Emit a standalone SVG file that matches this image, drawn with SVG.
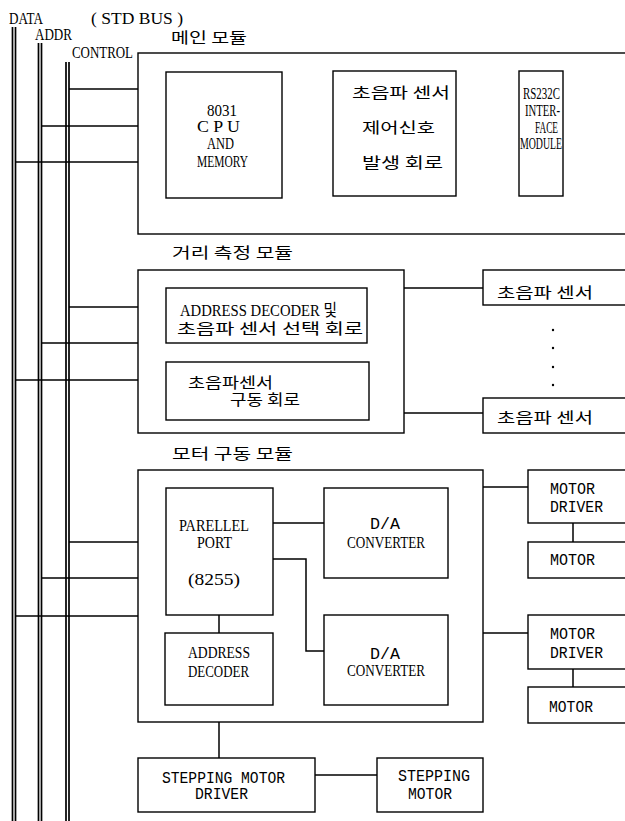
<svg xmlns="http://www.w3.org/2000/svg" width="625" height="821" viewBox="0 0 625 821">
<style>
.box{fill:none;stroke:#000;stroke-width:1.4}
.ln{fill:none;stroke:#000;stroke-width:1.5}
.bus{fill:none;stroke:#000;stroke-width:1.7}
.t{font-family:"Liberation Serif","Noto Sans CJK KR",serif;font-size:17px;fill:#000}
.m{font-family:"Liberation Mono","Noto Sans CJK KR",monospace;font-size:16px;fill:#000}
.k{font-family:"Noto Sans CJK KR","Liberation Serif",sans-serif;font-size:15px;fill:#000}
</style>
<rect width="625" height="821" fill="#fff"/>

<g id="bus">
<line class="bus" x1="12.5" y1="27" x2="12.5" y2="821"/>
<line class="bus" x1="15.5" y1="27" x2="15.5" y2="821"/>
<line class="bus" x1="38.5" y1="43" x2="38.5" y2="821"/>
<line class="bus" x1="41.5" y1="43" x2="41.5" y2="821"/>
<line class="bus" x1="66" y1="62" x2="66" y2="821"/>
<line class="bus" x1="69" y1="62" x2="69" y2="821"/>
<text class="t" x="9" y="24" textLength="34" lengthAdjust="spacingAndGlyphs">DATA</text>
<text class="t" x="91" y="24" textLength="92" lengthAdjust="spacingAndGlyphs">( STD BUS )</text>
<text class="t" x="35" y="40" textLength="37" lengthAdjust="spacingAndGlyphs">ADDR</text>
<text class="t" x="72" y="58" textLength="61" lengthAdjust="spacingAndGlyphs">CONTROL</text>
</g>

<g id="connectors">
<line class="ln" x1="69" y1="89" x2="138" y2="89"/>
<line class="ln" x1="41" y1="126" x2="138" y2="126"/>
<line class="ln" x1="15" y1="162" x2="138" y2="162"/>
<line class="ln" x1="69" y1="307" x2="138" y2="307"/>
<line class="ln" x1="41" y1="343" x2="138" y2="343"/>
<line class="ln" x1="15" y1="380" x2="138" y2="380"/>
<line class="ln" x1="69" y1="542" x2="138" y2="542"/>
<line class="ln" x1="41" y1="578" x2="138" y2="578"/>
<line class="ln" x1="15" y1="616" x2="138" y2="616"/>
<line class="ln" x1="404" y1="288" x2="483" y2="288"/>
<line class="ln" x1="404" y1="413" x2="483" y2="413"/>
<line class="ln" x1="273" y1="523" x2="324" y2="523"/>
<polyline class="ln" points="273,559 306,559 306,651 324,651"/>
<line class="ln" x1="219" y1="615" x2="219" y2="633"/>
<line class="ln" x1="483" y1="487" x2="528" y2="487"/>
<line class="ln" x1="573" y1="523" x2="573" y2="542"/>
<line class="ln" x1="483" y1="633" x2="528" y2="633"/>
<line class="ln" x1="573" y1="669" x2="573" y2="687"/>
<line class="ln" x1="219" y1="722" x2="219" y2="758"/>
<line class="ln" x1="315" y1="775" x2="377" y2="775"/>
</g>

<g id="main-module">
<rect class="box" x="138" y="53" width="500" height="181"/>
<text class="k" x="171" y="43" textLength="76" lengthAdjust="spacingAndGlyphs">메인 모듈</text>
</g>
<g id="cpu">
<rect class="box" x="166" y="72" width="116" height="126"/>
<text class="t" x="207" y="115.5" textLength="30" lengthAdjust="spacingAndGlyphs">8031</text>
<text class="t" x="197" y="132" textLength="43" lengthAdjust="spacingAndGlyphs">C P U</text>
<text class="t" x="207" y="148.5" textLength="27" lengthAdjust="spacingAndGlyphs">AND</text>
<text class="t" x="197" y="167" textLength="51" lengthAdjust="spacingAndGlyphs">MEMORY</text>
</g>
<g id="sensor-control">
<rect class="box" x="333" y="71" width="123" height="125"/>
<text class="k" x="352" y="98" textLength="98" lengthAdjust="spacingAndGlyphs">초음파 센서</text>
<text class="k" x="362" y="133" textLength="73" lengthAdjust="spacingAndGlyphs">제어신호</text>
<text class="k" x="362" y="168" textLength="81" lengthAdjust="spacingAndGlyphs">발생 회로</text>
</g>
<g id="rs232c">
<rect class="box" x="519" y="71" width="44" height="125"/>
<text class="t" x="523" y="98.5" textLength="37" lengthAdjust="spacingAndGlyphs">RS232C</text>
<text class="t" x="525" y="115.5" textLength="35" lengthAdjust="spacingAndGlyphs">INTER-</text>
<text class="t" x="535" y="132.5" textLength="23" lengthAdjust="spacingAndGlyphs">FACE</text>
<text class="t" x="520" y="148.5" textLength="42" lengthAdjust="spacingAndGlyphs">MODULE</text>
</g>

<g id="distance-module">
<rect class="box" x="138" y="270" width="266" height="163"/>
<text class="k" x="172" y="258" textLength="121" lengthAdjust="spacingAndGlyphs">거리 측정 모듈</text>
</g>
<g id="addr-decoder-select">
<rect class="box" x="166" y="288" width="201" height="55"/>
<text class="t" x="180" y="315.5" textLength="157" lengthAdjust="spacingAndGlyphs">ADDRESS DECODER 및</text>
<text class="k" x="177" y="334" textLength="186" lengthAdjust="spacingAndGlyphs">초음파 센서 선택 회로</text>
</g>
<g id="sensor-drive">
<rect class="box" x="166" y="362" width="203" height="58"/>
<text class="k" x="188" y="388" textLength="85" lengthAdjust="spacingAndGlyphs">초음파센서</text>
<text class="k" x="230" y="405" textLength="70" lengthAdjust="spacingAndGlyphs">구동 회로</text>
</g>
<g id="sensor-1">
<rect class="box" x="483" y="270" width="160" height="35"/>
<text class="k" x="497" y="298" textLength="96" lengthAdjust="spacingAndGlyphs">초음파 센서</text>
</g>
<g id="sensor-dots">
<circle cx="553" cy="330" r="1.2"/>
<circle cx="553" cy="348" r="1.2"/>
<circle cx="553" cy="367" r="1.2"/>
<circle cx="553" cy="385" r="1.2"/>
</g>
<g id="sensor-n">
<rect class="box" x="483" y="398" width="160" height="35"/>
<text class="k" x="497" y="423" textLength="96" lengthAdjust="spacingAndGlyphs">초음파 센서</text>
</g>

<g id="motor-module">
<rect class="box" x="138" y="470" width="345" height="252"/>
<text class="k" x="172" y="459" textLength="121" lengthAdjust="spacingAndGlyphs">모터 구동 모듈</text>
</g>
<g id="parallel-port">
<rect class="box" x="166" y="488" width="107" height="127"/>
<text class="t" x="179" y="530.5" textLength="70" lengthAdjust="spacingAndGlyphs">PARELLEL</text>
<text class="t" x="197" y="547.5" textLength="35" lengthAdjust="spacingAndGlyphs">PORT</text>
<text class="t" x="188" y="584.5" textLength="52" lengthAdjust="spacingAndGlyphs">(8255)</text>
</g>
<g id="da-1">
<rect class="box" x="324" y="488" width="124" height="90"/>
<text class="m" x="370" y="529" textLength="30" lengthAdjust="spacingAndGlyphs">D/A</text>
<text class="t" x="347" y="548" textLength="78" lengthAdjust="spacingAndGlyphs">CONVERTER</text>
</g>
<g id="address-decoder">
<rect class="box" x="165" y="633" width="108" height="72"/>
<text class="t" x="188" y="657.5" textLength="62" lengthAdjust="spacingAndGlyphs">ADDRESS</text>
<text class="t" x="188" y="676.5" textLength="61" lengthAdjust="spacingAndGlyphs">DECODER</text>
</g>
<g id="da-2">
<rect class="box" x="324" y="615" width="124" height="90"/>
<text class="m" x="370" y="659" textLength="30" lengthAdjust="spacingAndGlyphs">D/A</text>
<text class="t" x="347" y="676" textLength="78" lengthAdjust="spacingAndGlyphs">CONVERTER</text>
</g>
<g id="motor-driver-1">
<rect class="box" x="528" y="470" width="110" height="53"/>
<text class="m" x="550" y="493.5" textLength="45" lengthAdjust="spacingAndGlyphs">MOTOR</text>
<text class="m" x="550" y="511.5" textLength="53" lengthAdjust="spacingAndGlyphs">DRIVER</text>
</g>
<g id="motor-1">
<rect class="box" x="528" y="542" width="110" height="36"/>
<text class="m" x="550" y="564.5" textLength="45" lengthAdjust="spacingAndGlyphs">MOTOR</text>
</g>
<g id="motor-driver-2">
<rect class="box" x="528" y="615" width="110" height="54"/>
<text class="m" x="550" y="638.5" textLength="45" lengthAdjust="spacingAndGlyphs">MOTOR</text>
<text class="m" x="550" y="657.5" textLength="53" lengthAdjust="spacingAndGlyphs">DRIVER</text>
</g>
<g id="motor-2">
<rect class="box" x="528" y="687" width="110" height="36"/>
<text class="m" x="549" y="711.5" textLength="44" lengthAdjust="spacingAndGlyphs">MOTOR</text>
</g>
<g id="stepping-driver">
<rect class="box" x="138" y="758" width="177" height="54"/>
<text class="m" x="162" y="782.5" textLength="123" lengthAdjust="spacingAndGlyphs">STEPPING MOTOR</text>
<text class="m" x="195" y="798.5" textLength="53" lengthAdjust="spacingAndGlyphs">DRIVER</text>
</g>
<g id="stepping-motor">
<rect class="box" x="377" y="758" width="106" height="54"/>
<text class="m" x="398" y="780.5" textLength="72" lengthAdjust="spacingAndGlyphs">STEPPING</text>
<text class="m" x="408" y="798.5" textLength="44" lengthAdjust="spacingAndGlyphs">MOTOR</text>
</g>
</svg>
